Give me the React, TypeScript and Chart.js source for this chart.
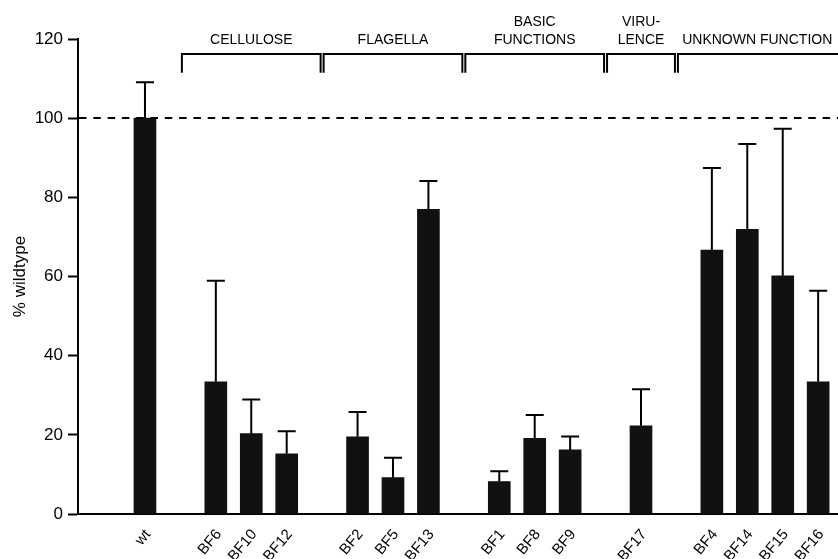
import React, { useEffect, useRef } from 'react';
import { Chart, registerables } from 'chart.js';

Chart.register(...registerables);

// Categories along the x axis; empty strings are the blank gaps between groups
const categories = ['wt', '', 'BF6', 'BF10', 'BF12', '', 'BF2', 'BF5', 'BF13', '', 'BF1', 'BF8', 'BF9', '', 'BF17', '', 'BF4', 'BF14', 'BF15', 'BF16'];
// Mean value (% wildtype) for each category
const means = [100, null, 33.4, 20.3, 15.2, null, 19.5, 9.2, 77.0, null, 8.2, 19.1, 16.2, null, 22.3, null, 66.7, 71.9, 60.2, 33.4];
// Top of the (upper) error bar for each category
const errorTops = [109.1, null, 58.9, 28.9, 20.9, null, 25.8, 14.2, 84.1, null, 10.8, 25.0, 19.6, null, 31.5, null, 87.4, 93.5, 97.3, 56.4];
// Functional groups: label lines and the gap categories that bound each bracket
const groupLabels = [['CELLULOSE'], ['FLAGELLA'], ['BASIC', 'FUNCTIONS'], ['VIRU-', 'LENCE'], ['UNKNOWN FUNCTION']];
const groupStart = [1, 5, 9, 13, 15];
const groupEnd = [5, 9, 13, 15, 20];
const yTicks = [0, 20, 40, 60, 80, 100, 120];
const referenceLine = 100;
const yTitle = '% wildtype';

export default function App() {
  const ref = useRef<HTMLCanvasElement>(null);

  useEffect(() => {
    document.body.style.margin = '0';
    const canvas = ref.current;
    if (!canvas) return;
    const font = "'Liberation Sans', Arial, Helvetica, sans-serif";
    const idx = categories.map((c, i) => i).filter((i) => categories[i] !== '');
    const data = idx.map((i) => ({ x: i, y: means[i] as number }));

    const overlay = {
      id: 'overlay',
      afterDatasetsDraw(chart: any) {
        const { ctx, chartArea } = chart;
        const xs = chart.scales.x;
        const ys = chart.scales.y;
        ctx.save();
        ctx.strokeStyle = '#000';
        ctx.fillStyle = '#000';
        ctx.lineWidth = 2;

        // dashed reference line
        ctx.setLineDash([7.5, 6.8]);
        const yr = Math.round(ys.getPixelForValue(referenceLine));
        ctx.beginPath();
        ctx.moveTo(chartArea.left + 1, yr);
        ctx.lineTo(chartArea.right, yr);
        ctx.stroke();
        ctx.setLineDash([]);

        // error bars (upper only)
        idx.forEach((i) => {
          const px = xs.getPixelForValue(i);
          const top = ys.getPixelForValue(errorTops[i] as number);
          const base = ys.getPixelForValue(means[i] as number);
          ctx.beginPath();
          ctx.moveTo(px, base);
          ctx.lineTo(px, top);
          ctx.moveTo(px - 9, top);
          ctx.lineTo(px + 9, top);
          ctx.stroke();
        });

        // group brackets and labels
        const yTop = ys.getPixelForValue(116.2);
        const yBot = ys.getPixelForValue(111.5);
        ctx.font = `14px ${font}`;
        ctx.textAlign = 'center';
        ctx.textBaseline = 'middle';
        ctx.lineJoin = 'miter';
        groupLabels.forEach((lines, g) => {
          const x1 = xs.getPixelForValue(groupStart[g]) + 1.5;
          const x2 = xs.getPixelForValue(groupEnd[g]) - 1.5;
          ctx.beginPath();
          ctx.moveTo(x1, yBot);
          ctx.lineTo(x1, yTop);
          ctx.lineTo(x2, yTop);
          ctx.lineTo(x2, yBot);
          ctx.stroke();
          const mid = xs.getPixelForValue((groupStart[g] + Math.min(groupEnd[g], xs.max)) / 2);
          const lastY = ys.getPixelForValue(119.8);
          lines.forEach((t, k) => {
            ctx.fillText(t, mid, lastY - (lines.length - 1 - k) * 18);
          });
        });
        ctx.restore();
      },
    };

    const chart = new Chart(canvas, {
      type: 'bar',
      data: {
        datasets: [
          {
            data,
            backgroundColor: '#111111',
            borderWidth: 0,
            barThickness: 22,
          },
        ],
      },
      options: {
        animation: false,
        responsive: false,
        devicePixelRatio: 1,
        layout: { padding: { top: 39, left: 0, right: 0, bottom: 0 } },
        plugins: { legend: { display: false }, tooltip: { enabled: false } },
        scales: {
          x: {
            type: 'linear',
            min: -1.89,
            max: 19.56,
            offset: false,
            grid: { display: false, drawTicks: false },
            border: { display: true, color: '#000', width: 2 },
            afterBuildTicks: (s: any) => {
              s.ticks = idx.map((i) => ({ value: i }));
            },
            afterFit: (s: any) => {
              s.height = 45;
              s.paddingLeft = 0;
              s.paddingRight = 0;
            },
            ticks: {
              autoSkip: false,
              minRotation: 50,
              maxRotation: 50,
              padding: 12,
              labelOffset: 3,
              color: '#000',
              font: { family: font, size: 15 },
              callback: (v: any) => categories[v] ?? '',
            },
          },
          y: {
            min: 0,
            max: 120,
            afterBuildTicks: (s: any) => {
              s.ticks = yTicks.map((v) => ({ value: v }));
            },
            afterFit: (s: any) => {
              s.width = 78;
              s.paddingTop = 0;
              s.paddingBottom = 0;
            },
            grid: { drawOnChartArea: false, drawTicks: true, tickLength: 10, tickWidth: 2, tickColor: '#000' },
            border: { display: true, color: '#000', width: 2 },
            ticks: { padding: 5, color: '#000', font: { family: font, size: 17 } },
            title: {
              display: true,
              text: yTitle,
              color: '#000',
              font: { family: font, size: 17 },
              padding: { top: 10, bottom: 0 },
            },
          },
        },
      } as any,
      plugins: [overlay],
    });
    return () => chart.destroy();
  }, []);

  return <canvas ref={ref} width={838} height={559} style={{ display: 'block' }} />;
}
